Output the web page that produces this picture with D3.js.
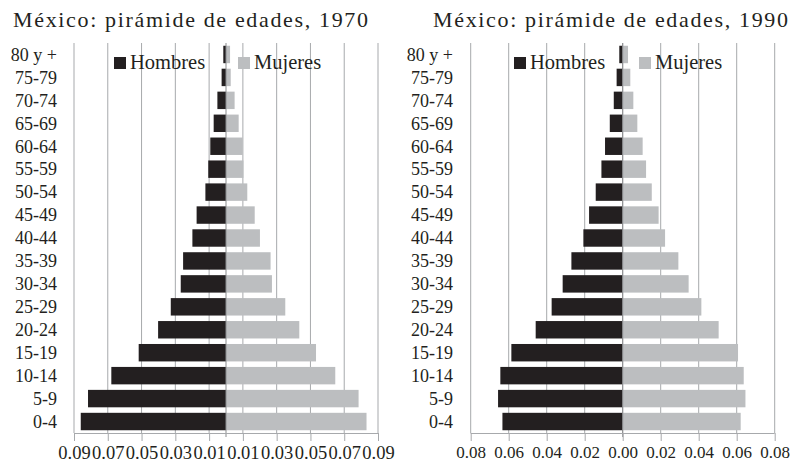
<!DOCTYPE html>
<html lang="es">
  <head>
    <meta charset="UTF-8" />
    <title>México: pirámides de edades</title>
    <script src="https://d3js.org/d3.v7.min.js"></script>
    <style>
      body { margin: 0; background: #fff; }
      text { font-family: "Liberation Serif", "DejaVu Serif", serif; fill: #231f20; }
    </style>
  </head>
  <body>
    <svg width="793" height="465"></svg>

    <script>
      // age groups, top of the pyramid first
      const ageGroups = ["80 y +", "75-79", "70-74", "65-69", "60-64", "55-59", "50-54",
        "45-49", "40-44", "35-39", "30-34", "25-29", "20-24", "15-19", "10-14", "5-9", "0-4"];
      const seriesNames = ["Hombres", "Mujeres"];

      // shares of total population, 1970
      const hombres1970 = [0.0016, 0.0026, 0.0051, 0.0073, 0.0093, 0.0105, 0.0122, 0.0174,
        0.0199, 0.0254, 0.0268, 0.0327, 0.0402, 0.0517, 0.0679, 0.0817, 0.0860];
      const mujeres1970 = [0.0024, 0.0028, 0.0051, 0.0075, 0.0099, 0.0103, 0.0126, 0.0170,
        0.0201, 0.0264, 0.0272, 0.0351, 0.0434, 0.0533, 0.0647, 0.0785, 0.0832];

      // shares of total population, 1990
      const hombres1990 = [0.0018, 0.0032, 0.0047, 0.0068, 0.0093, 0.0112, 0.0142, 0.0177,
        0.0207, 0.0270, 0.0316, 0.0374, 0.0458, 0.0586, 0.0644, 0.0656, 0.0633];
      const mujeres1990 = [0.0028, 0.0040, 0.0056, 0.0077, 0.0105, 0.0123, 0.0153, 0.0189,
        0.0223, 0.0293, 0.0347, 0.0414, 0.0505, 0.0607, 0.0637, 0.0646, 0.0621];

      const ticks1970 = [-0.09, -0.07, -0.05, -0.03, -0.01, 0.01, 0.03, 0.05, 0.07, 0.09];
      const ticks1990 = [-0.08, -0.06, -0.04, -0.02, 0, 0.02, 0.04, 0.06, 0.08];

      const svg = d3.select("svg");
      const colors = { Hombres: "#231f20", Mujeres: "#bcbec0" };

      function plot_pyramid(opt) {
        const g = svg.append("g");

        const x = d3.scaleLinear().domain(opt.domain).range(opt.xRange);
        const y = d3.scaleBand().domain(ageGroups).range([43, 433]).paddingInner(0.24).paddingOuter(0.12);

        // title (the original face is wider than Times, so stretch the spacing a bit)
        g.append("text")
          .attr("x", opt.titleX)
          .attr("y", 27)
          .attr("textLength", 355)
          .attr("lengthAdjust", "spacing")
          .style("font-size", "22px")
          .text(opt.title);

        // vertical gridlines
        g.append("g")
          .selectAll("line")
          .data(opt.ticks)
          .join("line")
          .attr("x1", d => x(d)).attr("x2", d => x(d))
          .attr("y1", 43).attr("y2", 433)
          .attr("stroke", "#a7a9ac")
          .attr("stroke-width", 1);

        // bars
        const rows = ageGroups.map((a, i) => ({ age: a, h: opt.hombres[i], m: opt.mujeres[i] }));
        g.append("g")
          .selectAll("rect")
          .data(rows)
          .join("rect")
          .attr("x", d => x(-d.h))
          .attr("width", d => x(0) - x(-d.h))
          .attr("y", d => y(d.age))
          .attr("height", y.bandwidth())
          .attr("fill", colors.Hombres);
        g.append("g")
          .selectAll("rect")
          .data(rows)
          .join("rect")
          .attr("x", x(0))
          .attr("width", d => x(d.m) - x(0))
          .attr("y", d => y(d.age))
          .attr("height", y.bandwidth())
          .attr("fill", colors.Mujeres);

        // category axis line at zero
        g.append("line")
          .attr("x1", x(0)).attr("x2", x(0))
          .attr("y1", 43).attr("y2", 437)
          .attr("stroke", "#8a8c8e");

        // value axis
        const xAxis = g.append("g")
          .attr("transform", "translate(0,433)")
          .call(d3.axisBottom(x)
            .tickValues(opt.ticks)
            .tickSize(8)
            .tickPadding(5)
            .tickFormat(d => Math.abs(d).toFixed(2)));
        xAxis.select(".domain").attr("stroke", "#a7a9ac").attr("d", `M${x(opt.domain[0])},0.5H${x(opt.domain[1])}`);
        xAxis.selectAll(".tick line").attr("stroke", "#a7a9ac");
        xAxis.selectAll(".tick text")
          .style("font-family", '"Liberation Serif", serif')
          .style("font-size", opt.tickFont)
          .attr("fill", "#231f20");

        // age labels
        g.append("g")
          .selectAll("text")
          .data(ageGroups)
          .join("text")
          .attr("x", opt.labelX)
          .attr("y", d => y(d) + y.bandwidth() / 2)
          .attr("dy", "0.35em")
          .attr("text-anchor", "end")
          .style("font-size", "18px")
          .text(d => d);

        // legend
        const leg = g.append("g")
          .selectAll("g")
          .data(seriesNames)
          .join("g")
          .attr("transform", (d, i) => `translate(${opt.legendX[i]},57)`);
        leg.append("rect")
          .attr("width", 12).attr("height", 12)
          .attr("fill", d => colors[d]);
        leg.append("text")
          .attr("x", 16)
          .attr("y", 11.5)
          .style("font-size", "20.5px")
          .text(d => d);
      }

      plot_pyramid({
        title: "México: pirámide de edades, 1970",
        titleX: 13,
        domain: [-0.09, 0.09],
        xRange: [74, 378],
        ticks: ticks1970,
        tickFont: "18.5px",
        hombres: hombres1970,
        mujeres: mujeres1970,
        labelX: 57,
        legendX: [114, 238]
      });

      plot_pyramid({
        title: "México: pirámide de edades, 1990",
        titleX: 433,
        domain: [-0.08, 0.08],
        xRange: [470.7, 774.7],
        ticks: ticks1990,
        tickFont: "17px",
        hombres: hombres1990,
        mujeres: mujeres1990,
        labelX: 453,
        legendX: [514, 639]
      });
    </script>
  </body>
</html>
